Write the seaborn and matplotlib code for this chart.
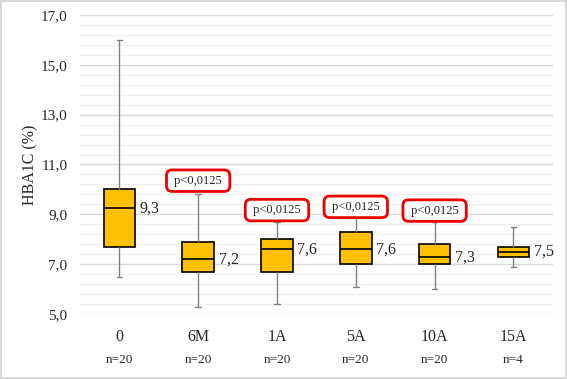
import matplotlib
matplotlib.use("Agg")
import matplotlib.pyplot as plt
import seaborn as sns
import numpy as np
import pandas as pd
from matplotlib.ticker import FixedLocator, FuncFormatter

# five-number summaries: min, q1, median, q3, max
categories = ["0", "6M", "1A", "5A", "10A", "15A"]
mins = [6.5, 5.3, 5.4, 6.1, 6.0, 6.9]
q1s = [7.7, 6.7, 6.7, 7.0, 7.0, 7.3]
medians = [9.24, 7.2, 7.6, 7.6, 7.28, 7.49]
q3s = [10.0, 7.9, 8.0, 8.3, 7.8, 7.7]
maxs = [16.0, 9.8, 8.7, 8.9, 8.7, 8.5]
median_labels = ["9,3", "7,2", "7,6", "7,6", "7,3", "7,5"]
n_labels = ["n=20", "n=20", "n=20", "n=20", "n=20", "n=4"]
p_cats = ["6M", "1A", "5A", "10A"]
p_y = [10.35, 9.17, 9.3, 9.15]
p_text = "p<0,0125"

rows = []
for c, a, b, m, d, e in zip(categories, mins, q1s, medians, q3s, maxs):
    for v in (a, b, m, d, e):
        rows.append({"grupo": c, "hba1c": v})
df = pd.DataFrame(rows)

sns.set_style("white")
plt.rcParams["font.family"] = ["Liberation Serif", "DejaVu Serif"]

fig = plt.figure(figsize=(5.67, 3.79), dpi=100)
fig.patch.set_edgecolor("#d9d9d9")
fig.patch.set_linewidth(1.5)
ax = fig.add_axes([0.141, 0.1715, 0.834, 0.789])

sns.boxplot(data=df, x="grupo", y="hba1c", order=categories, ax=ax,
            whis=(0, 100), width=0.4, color="#FFC000", fliersize=0,
            boxprops=dict(facecolor="#FFC000", edgecolor="black", linewidth=1.2),
            medianprops=dict(color="black", linewidth=1.2),
            whiskerprops=dict(color="#808080", linewidth=1),
            capprops=dict(color="#808080", linewidth=1),
            capwidths=0.07)

ax.set_ylim(5, 17)
ax.set_xlim(-0.5, 5.5)
ax.yaxis.set_major_locator(FixedLocator(np.arange(5, 17.01, 2)))
ax.yaxis.set_minor_locator(FixedLocator(np.arange(5, 17.01, 0.4)))
ax.yaxis.set_major_formatter(FuncFormatter(lambda v, p: f"{v:.1f}".replace(".", ",")))
ax.grid(which="minor", axis="y", color="#f0f0f0", linewidth=1)
ax.grid(which="major", axis="y", color="#d9d9d9", linewidth=1)
ax.set_axisbelow(True)
for s in ax.spines.values():
    s.set_visible(False)
ax.tick_params(axis="both", which="both", length=0)
ax.tick_params(axis="y", pad=9, labelsize=11)
ax.tick_params(axis="x", pad=11, labelsize=11.5)
ax.set_xlabel("")
ax.set_ylabel("HBA1C (%)", fontsize=11.5, labelpad=2)

for i, (m, lab) in enumerate(zip(medians, median_labels)):
    ax.text(i + 0.26, m, lab, fontsize=11.5, va="center", ha="left")

for i, n in enumerate(n_labels):
    ax.text(i, -0.155, n, fontsize=9.5, ha="center", va="center",
            transform=ax.get_xaxis_transform())

for c, y in zip(p_cats, p_y):
    ax.text(categories.index(c), y, " " + p_text + " ", fontsize=9,
            ha="center", va="center",
            bbox=dict(boxstyle="round,pad=0.38,rounding_size=0.45",
                      facecolor="white", edgecolor="#ee0000", linewidth=2))

fig.savefig("out.png", dpi=100)
